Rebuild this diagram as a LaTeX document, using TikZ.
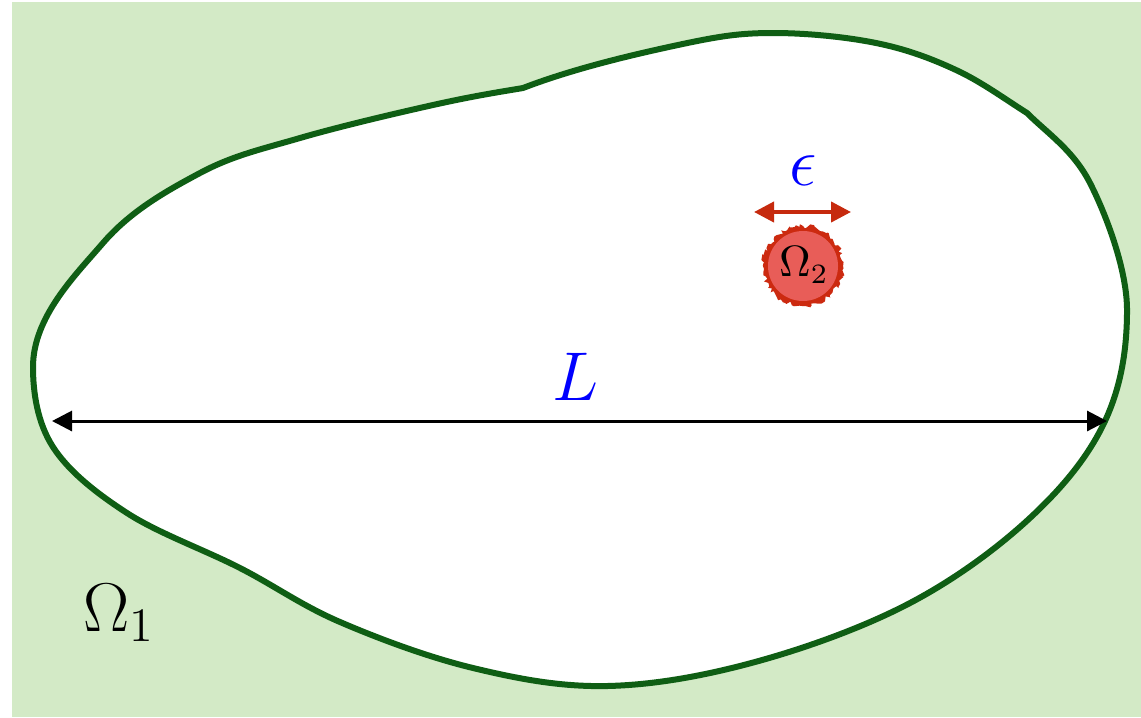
\documentclass[tikz,border=0pt]{standalone}
\usetikzlibrary{arrows.meta,decorations.pathmorphing}
\definecolor{bggreen}{HTML}{D3EAC6}
\definecolor{edgegreen}{HTML}{0F5E14}
\definecolor{incred}{HTML}{E85D58}
\definecolor{incedge}{HTML}{CC2A10}
\definecolor{arrred}{HTML}{C62A0E}
\tikzset{
  outline/.style={draw=edgegreen,line width=1.5pt,fill=white,line join=round},
  dimarrow/.style={{Triangle[length=5pt,width=5pt]}-{Triangle[length=5pt,width=5pt]}},
  lbl/.style={inner sep=0pt},
}
\begin{document}
\begin{tikzpicture}[x=0.25pt,y=-0.25pt]
\useasboundingbox (0,0) rectangle (1141,717);
\fill[bggreen] (12,2) rectangle (1141,717);
\draw[outline] (523,88)
 .. controls (575,68) and (636,54) .. (678,45)
 .. controls (720,36) and (740,33) .. (773,33)
 .. controls (806,33) and (845.5,36.8) .. (876,43)
 .. controls (906.5,49.2) and (930.8,58.3) .. (956,70)
 .. controls (981.2,81.7) and (1003.3,98) .. (1027,113)
 .. controls (1047,133) and (1073.3,150.2) .. (1090,183)
 .. controls (1106.7,215.8) and (1127,270.3) .. (1127,310)
 .. controls (1127,349.7) and (1121,386.5) .. (1105,421)
 .. controls (1089,455.5) and (1063.5,486.7) .. (1031,517)
 .. controls (998.5,547.3) and (956,578.8) .. (910,603)
 .. controls (864,627.2) and (805.5,648.2) .. (755,662)
 .. controls (704.5,675.8) and (654,685) .. (607,686)
 .. controls (560,687) and (517.5,678.7) .. (473,668)
 .. controls (428.5,657.3) and (378.8,638.7) .. (340,622)
 .. controls (301.2,605.3) and (275.5,586.2) .. (240,568)
 .. controls (204.5,549.8) and (158.2,533.2) .. (127,513)
 .. controls (95.8,492.8) and (68.7,471.3) .. (53,447)
 .. controls (37.3,422.7) and (33,392.3) .. (33,367)
 .. controls (33,317) and (75.2,275.3) .. (103,243)
 .. controls (130.8,210.7) and (167.2,190.5) .. (200,173)
 .. controls (232.8,155.5) and (261.2,149.3) .. (300,138)
 .. controls (338.8,126.7) and (395.8,113.3) .. (433,105)
 .. controls (470.2,96.7) and (493,93) .. (523,88) -- cycle;
\coordinate (La) at (52,421);
\coordinate (Lb) at (1107,421);
\draw[dimarrow,black,line width=0.75pt] (La) -- (Lb);
\node[lbl,text=blue,font=\fontsize{16.5}{18}\selectfont] (L) at (576,377) {$L$};
\coordinate (ea) at (754,212);
\coordinate (eb) at (851,212);
\draw[dimarrow,arrred,line width=1pt] (ea) -- (eb);
\node[lbl,text=blue,font=\fontsize{16}{18}\selectfont] (eps) at (803,171) {$\epsilon$};
\fill[incedge,decorate,decoration={random steps,segment length=0.6pt,amplitude=0.6pt}] (803,266) circle (40);
\fill[incred] (803,266) circle (35);
\node[lbl,font=\fontsize{10.5}{12}\selectfont] (om2) at (804,265) {$\Omega_2$};
\node[lbl,font=\fontsize{17}{19}\selectfont] (om1) at (119,613) {$\Omega_1$};
\end{tikzpicture}
\end{document}
